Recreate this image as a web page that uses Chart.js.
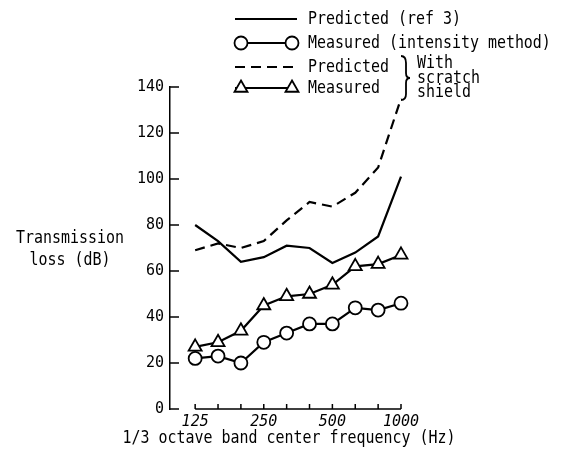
<!DOCTYPE html>
<html>
<head>
<meta charset="utf-8">
<script src="https://cdn.jsdelivr.net/npm/chart.js@4.4.1/dist/chart.umd.min.js"></script>
<style>
	body {margin: 0; background: #fff;}
	canvas {display: block;}
</style>
</head>
<body>
<canvas id="tl" width="561" height="456"></canvas>
<script>
const freqs = ['125', '160', '200', '250', '315', '400', '500', '630', '800', '1000']
const labeledFreqs = ['125', '250', '500', '1000']
const predictedRef3 = [80, 73, 64, 66, 71, 70, 63.5, 68, 75, 101]
const measuredIntensity = [22, 23, 20, 29, 33, 37, 37, 44, 43, 46]
const predictedShield = [69, 72, 70, 73, 82, 90, 88, 94, 105, 135]
const measuredShield = [27, 29, 34, 45, 49, 50, 54, 62, 63, 67]

const FONT = 'DejaVu Sans Mono'
const toPoints = vals => freqs.map((f, i) => ({x: i, y: vals[i]}))

// condensed typewriter look: taller font squeezed horizontally
function text(ctx, s, x, y, align) {
	ctx.save()
	ctx.translate(x, y)
	ctx.scale(0.83, 1)
	ctx.font = '18px "' + FONT + '"'
	ctx.fillStyle = '#000'
	ctx.textAlign = align || 'left'
	ctx.textBaseline = 'middle'
	ctx.fillText(s, 0, 0)
	ctx.restore()
}

const decorations = {
	id: 'decorations',
	afterDraw(chart) {
		const ctx = chart.ctx
		const sx = chart.scales.x
		const sy = chart.scales.y
		const left = chart.chartArea.left
		ctx.save()
		ctx.strokeStyle = '#000'
		ctx.lineWidth = 1.5

		// y ticks pointing inward
		for (let v = 0; v <= 140; v += 20) {
			const y = sy.getPixelForValue(v)
			ctx.beginPath()
			ctx.moveTo(left, y)
			ctx.lineTo(left + 9, y)
			ctx.stroke()
		}

		// x axis only spans the measured bands
		const y0 = sy.getPixelForValue(0)
		ctx.beginPath()
		ctx.moveTo(sx.getPixelForValue(0), y0)
		ctx.lineTo(sx.getPixelForValue(freqs.length - 1), y0)
		freqs.forEach((f, i) => {
			const x = sx.getPixelForValue(i)
			ctx.moveTo(x, y0)
			ctx.lineTo(x, y0 - 5)
		})
		ctx.stroke()

		text(ctx, 'Transmission', 70, 238, 'center')
		text(ctx, 'loss (dB)', 70, 260, 'center')
		text(ctx, '1/3 octave band center frequency (Hz)', 289, 438, 'center')

		// legend
		const ds = chart.data.datasets
		const rows = [19, 43, 67, 88]
		const x1 = 238, x2 = 292
		rows.forEach((y, i) => {
			const d = ds[i]
			ctx.save()
			ctx.lineWidth = d.borderWidth
			ctx.setLineDash(d.borderDash || [])
			ctx.beginPath()
			ctx.moveTo(x1 - 3, y)
			ctx.lineTo(x2 + 5, y)
			ctx.stroke()
			ctx.restore()
			if (d.pointRadius > 0) {
				ctx.save()
				ctx.fillStyle = '#fff'
				ctx.strokeStyle = '#000'
				ctx.lineWidth = d.pointBorderWidth
				const opts = {pointStyle: d.pointStyle, radius: d.pointRadius, borderWidth: d.pointBorderWidth}
				Chart.helpers.drawPoint(ctx, opts, x1 + 3, y)
				Chart.helpers.drawPoint(ctx, opts, x2, y)
				ctx.restore()
			}
		})
		text(ctx, 'Predicted (ref 3)', 308, rows[0])
		text(ctx, 'Measured (intensity method)', 308, rows[1])
		text(ctx, 'Predicted', 308, rows[2])
		text(ctx, 'Measured', 308, rows[3])

		// brace grouping the scratch shield rows
		ctx.lineWidth = 1.8
		ctx.beginPath()
		ctx.moveTo(401, 56)
		ctx.quadraticCurveTo(406, 56, 406, 63)
		ctx.lineTo(406, 73)
		ctx.quadraticCurveTo(406, 78, 410, 78)
		ctx.quadraticCurveTo(406, 78, 406, 83)
		ctx.lineTo(406, 94)
		ctx.quadraticCurveTo(406, 100, 401, 100)
		ctx.stroke()
		text(ctx, 'With', 417, 63)
		text(ctx, 'scratch', 417, 78)
		text(ctx, 'shield', 417, 92)
		ctx.restore()
	}
}

const lineBase = {
	borderColor: '#000',
	borderWidth: 2.2,
	pointRadius: 0,
	tension: 0,
	clip: false
}

new Chart(document.getElementById('tl'), {
	type: 'line',
	data: {
		datasets: [
			{...lineBase, label: 'Predicted (ref 3)', data: toPoints(predictedRef3)},
			{...lineBase, label: 'Measured (intensity method)', data: toPoints(measuredIntensity),
				pointStyle: 'circle', pointRadius: 6.5, pointBorderWidth: 1.8,
				pointBackgroundColor: '#fff', pointBorderColor: '#000'},
			{...lineBase, label: 'Predicted, with scratch shield', data: toPoints(predictedShield),
				borderDash: [10, 6]},
			{...lineBase, label: 'Measured, with scratch shield', data: toPoints(measuredShield),
				pointStyle: 'triangle', pointRadius: 7.5, pointBorderWidth: 1.8,
				pointBackgroundColor: '#fff', pointBorderColor: '#000'}
		]
	},
	options: {
		responsive: false,
		animation: false,
		layout: {padding: {top: 87, right: 160, left: 0, bottom: 0}},
		plugins: {legend: {display: false}, tooltip: {enabled: false}},
		scales: {
			x: {
				type: 'linear',
				min: -1.1,
				max: freqs.length - 1,
				afterBuildTicks: s => { s.ticks = freqs.map((f, i) => ({value: i})) },
				afterFit: s => { s.height = 47 },
				grid: {display: false, drawTicks: false},
				border: {display: false},
				ticks: {
					autoSkip: false,
					maxRotation: 0,
					padding: 4,
					color: '#000',
					font: {family: FONT, size: 15, style: 'italic'},
					callback: v => labeledFreqs.includes(freqs[v]) ? freqs[v] : ''
				}
			},
			y: {
				min: 0,
				max: 140,
				afterFit: s => { s.width = 170 },
				grid: {display: false, drawTicks: false},
				border: {display: true, color: '#000', width: 1.5},
				ticks: {
					stepSize: 20,
					padding: 6,
					color: '#000',
					font: {family: FONT, size: 15}
				}
			}
		}
	},
	plugins: [decorations]
})
</script>
</body>
</html>
